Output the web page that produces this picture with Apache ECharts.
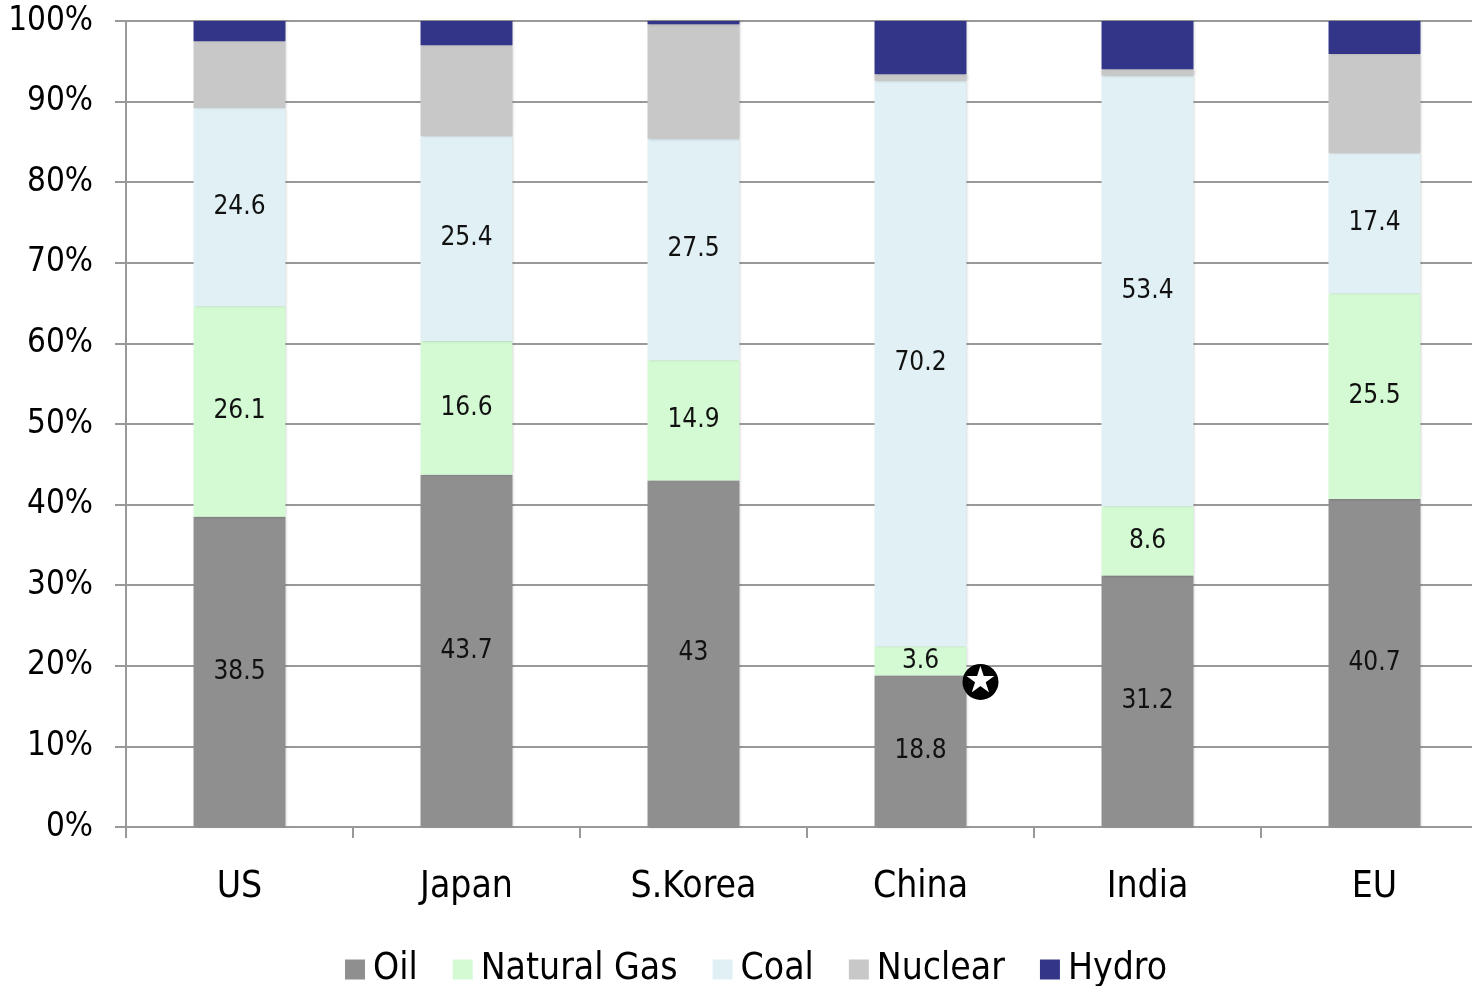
<!DOCTYPE html>
<html><head><meta charset="utf-8">
<script src="https://cdn.jsdelivr.net/npm/echarts@6/dist/echarts.min.js"></script>
<style>html,body{margin:0;padding:0;background:#fff;overflow:hidden}#c{width:1488px;height:986px}</style>
</head><body><div id="c"></div>
<script>
const categories = ['US','Japan','S.Korea','China','India','EU'];
const oil = [38.5, 43.7, 43, 18.8, 31.2, 40.7];
const gas = [26.1, 16.6, 14.9, 3.6, 8.6, 25.5];
const coal = [24.6, 25.4, 27.5, 70.2, 53.4, 17.4];
const nuclear = [8.3, 11.3, 14.2, 0.8, 0.8, 12.3];
const hydro = [2.5, 3.0, 0.4, 6.6, 6.0, 4.1];
const yTicks = [0,10,20,30,40,50,60,70,80,90,100];
const starAt = ['China', 18];

const FONT = 'DejaVu Sans Condensed';
const chart = echarts.init(document.getElementById('c'));
function mk(name, data, color, showLabel, extra) {
  return Object.assign({
    name, type: 'bar', stack: 'total', data, barWidth: '40.5%',
    itemStyle: { color, shadowBlur: 3, shadowColor: 'rgba(0,0,0,0.25)', shadowOffsetX: 1 },
    label: { show: showLabel, position: 'inside', color: '#111', fontFamily: FONT, fontSize: 26 },
    emphasis: { disabled: true }
  }, extra || {});
}
chart.setOption({
  animation: false,
  textStyle: { fontFamily: FONT },
  grid: { left: 126, right: 0, top: 21, bottom: 159 },
  legend: {
    top: 951, left: 345, padding: 0, itemWidth: 20, itemHeight: 20, itemGap: 35,
    icon: 'rect',
    textStyle: { fontFamily: FONT, fontSize: 37, color: '#000', padding: [0,0,0,3] },
    data: ['Oil','Natural Gas','Coal','Nuclear','Hydro']
  },
  xAxis: {
    type: 'category', data: categories,
    axisLine: { lineStyle: { color: '#999', width: 2 } },
    axisTick: { show: true, length: 11, alignWithLabel: false, lineStyle: { color: '#999', width: 2 } },
    axisLabel: { color: '#000', fontSize: 37, fontFamily: FONT, margin: 42 }
  },
  yAxis: {
    type: 'value', min: 0, max: 100, interval: 10,
    axisLine: { show: true, lineStyle: { color: '#999', width: 2 } },
    axisTick: { show: true, length: 11, lineStyle: { color: '#999', width: 2 } },
    splitLine: { lineStyle: { color: '#999', width: 2 } },
    axisLabel: { color: '#000', fontSize: 33, fontFamily: FONT, margin: 33, padding: [4,0,0,0],
      formatter: v => yTicks.indexOf(v) >= 0 ? v + '%' : '' }
  },
  series: [
    mk('Oil', oil, '#8f8f8f', true, {
      markPoint: {
        silent: true,
        data: [{ coord: starAt, symbol: 'circle', symbolSize: 36, symbolOffset: [60, 0],
          itemStyle: { color: '#000', shadowBlur: 0 },
          label: { show: true, formatter: '★', color: '#fff', fontSize: 36, fontFamily: 'DejaVu Sans', offset: [0, 1] } }]
      }
    }),
    mk('Natural Gas', gas, '#d4fad4', true),
    mk('Coal', coal, '#e0f0f4', true),
    mk('Nuclear', nuclear, '#c8c8c8', false),
    mk('Hydro', hydro, '#333688', false)
  ]
});
</script></body></html>
